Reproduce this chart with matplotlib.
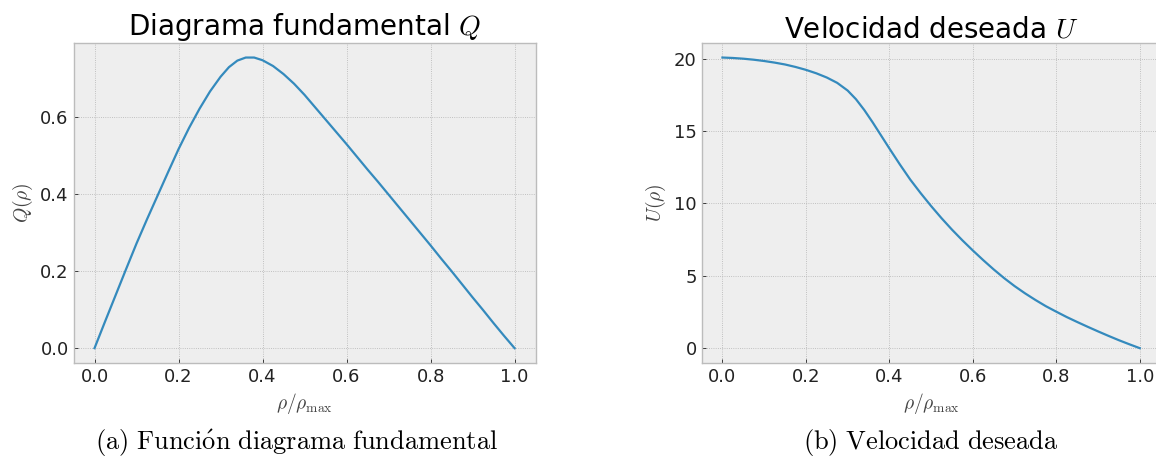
import matplotlib
matplotlib.use("Agg")
import matplotlib.pyplot as plt

plt.style.use("bmh")
plt.rcParams["mathtext.fontset"] = "cm"

# Fundamental diagram Q(rho)
rho_q = [0.000, 0.025, 0.050, 0.075, 0.100, 0.125, 0.150, 0.175, 0.200, 0.225,
         0.250, 0.275, 0.300, 0.320, 0.340, 0.360, 0.380, 0.400, 0.425, 0.450,
         0.475, 0.500, 0.525, 0.550, 0.575, 0.600, 0.625, 0.650, 0.675, 0.700,
         0.725, 0.750, 0.775, 0.800, 0.825, 0.850, 0.875, 0.900, 0.925, 0.950,
         0.975, 1.000]
q_vals = [0.000, 0.069, 0.137, 0.205, 0.272, 0.335, 0.396, 0.457, 0.517, 0.572,
          0.622, 0.667, 0.705, 0.730, 0.747, 0.755, 0.755, 0.748, 0.733, 0.712,
          0.687, 0.658, 0.626, 0.594, 0.562, 0.530, 0.497, 0.464, 0.432, 0.399,
          0.366, 0.333, 0.300, 0.267, 0.233, 0.200, 0.166, 0.132, 0.099, 0.065,
          0.032, 0.000]

# Desired velocity U(rho)
rho_u = [0.000, 0.025, 0.050, 0.075, 0.100, 0.125, 0.150, 0.175, 0.200, 0.225,
         0.250, 0.275, 0.300, 0.320, 0.340, 0.360, 0.380, 0.400, 0.425, 0.450,
         0.475, 0.500, 0.525, 0.550, 0.575, 0.600, 0.625, 0.650, 0.675, 0.700,
         0.725, 0.750, 0.775, 0.800, 0.825, 0.850, 0.875, 0.900, 0.925, 0.950,
         0.975, 1.000]
u_vals = [20.08, 20.05, 20.00, 19.93, 19.84, 19.73, 19.60, 19.43, 19.23, 18.99,
          18.70, 18.33, 17.80, 17.20, 16.45, 15.60, 14.70, 13.80, 12.70, 11.65,
          10.71, 9.82, 8.98, 8.19, 7.45, 6.75, 6.08, 5.44, 4.84, 4.29,
          3.79, 3.33, 2.90, 2.52, 2.15, 1.81, 1.48, 1.16, 0.85, 0.55,
          0.27, 0.00]

x_ticks = [0.0, 0.2, 0.4, 0.6, 0.8, 1.0]
q_ticks = [0.0, 0.2, 0.4, 0.6]
u_ticks = [0, 5, 10, 15, 20]

fig = plt.figure(figsize=(11.56, 4.59), dpi=100)
fig.patch.set_facecolor("white")

ax1 = fig.add_axes([0.0636, 0.2098, 0.3997, 0.6965])
ax2 = fig.add_axes([0.6069, 0.2098, 0.3971, 0.6965])

line_color = "#348ABD"
ax1.plot(rho_q, q_vals, color=line_color, lw=1.6)
ax2.plot(rho_u, u_vals, color=line_color, lw=1.6)

for ax, yt, ylab, title in [
    (ax1, q_ticks, r"$Q(\rho)$", r"Diagrama fundamental $Q$"),
    (ax2, u_ticks, r"$U(\rho)$", r"Velocidad deseada $U$"),
]:
    ax.set_xticks(x_ticks)
    ax.set_xticklabels([f"{t:.1f}" for t in x_ticks])
    ax.set_yticks(yt)
    if ax is ax1:
        ax.set_yticklabels([f"{t:.1f}" for t in yt])
    ax.tick_params(labelsize=13, colors="#222222", length=3, width=0.6)
    ax.set_xlabel(r"$\rho/\rho_{\mathrm{max}}$", fontsize=14, color="#444444")
    ax.set_ylabel(ylab, fontsize=14, color="#444444")
    ax.set_title(title, fontsize=20, pad=4)
    ax.set_facecolor("#eeeeee")
    for s in ax.spines.values():
        s.set_color("#bcbcbc")
        s.set_linewidth(1.0)
    ax.grid(True, color="#b2b2b2", ls=":", lw=0.6)

fig.text(0.2565, 0.035, r"$\mathrm{(a)\ Funci\acute{o}n\ diagrama\ fundamental}$",
         ha="center", va="center", fontsize=19)
fig.text(0.805, 0.035, r"$\mathrm{(b)\ Velocidad\ deseada}$",
         ha="center", va="center", fontsize=19)

fig.savefig("out.png", dpi=100, facecolor="white")
